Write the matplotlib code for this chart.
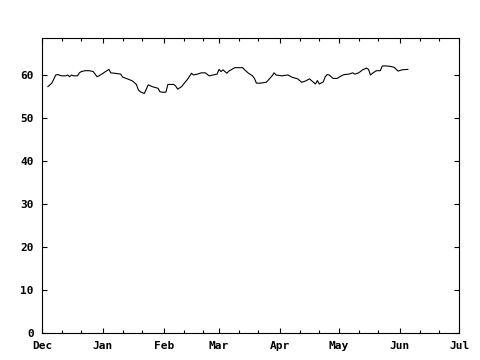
import pandas as pd
import matplotlib
matplotlib.use("Agg")
import matplotlib.pyplot as plt
import matplotlib.dates as mdates

# daily values
dates = ["2006-12-04", "2006-12-06", "2006-12-08", "2006-12-09", "2006-12-11",
         "2006-12-13", "2006-12-14", "2006-12-15", "2006-12-16", "2006-12-17",
         "2006-12-19", "2006-12-20", "2006-12-21", "2006-12-23", "2006-12-25",
         "2006-12-27", "2006-12-29", "2006-12-30", "2007-01-01", "2007-01-04",
         "2007-01-05", "2007-01-07", "2007-01-10", "2007-01-11", "2007-01-14",
         "2007-01-16", "2007-01-18", "2007-01-19", "2007-01-20", "2007-01-22",
         "2007-01-24", "2007-01-26", "2007-01-29", "2007-01-30", "2007-01-31",
         "2007-02-02", "2007-02-03", "2007-02-06", "2007-02-07", "2007-02-08",
         "2007-02-10", "2007-02-11", "2007-02-13", "2007-02-15", "2007-02-16",
         "2007-02-18", "2007-02-20", "2007-02-22", "2007-02-24", "2007-02-26",
         "2007-02-28", "2007-03-01", "2007-03-02", "2007-03-03", "2007-03-05",
         "2007-03-06", "2007-03-09", "2007-03-13", "2007-03-14", "2007-03-16",
         "2007-03-18", "2007-03-19", "2007-03-20", "2007-03-22", "2007-03-25",
         "2007-03-26", "2007-03-28", "2007-03-29", "2007-03-30", "2007-04-02",
         "2007-04-05", "2007-04-07", "2007-04-10", "2007-04-12", "2007-04-14",
         "2007-04-16", "2007-04-18", "2007-04-19", "2007-04-20", "2007-04-21",
         "2007-04-23", "2007-04-24", "2007-04-25", "2007-04-26", "2007-04-28",
         "2007-04-30", "2007-05-03", "2007-05-04", "2007-05-06", "2007-05-08",
         "2007-05-09", "2007-05-11", "2007-05-13", "2007-05-15", "2007-05-16",
         "2007-05-17", "2007-05-18", "2007-05-20", "2007-05-22", "2007-05-23",
         "2007-05-25", "2007-05-27", "2007-05-29", "2007-05-31", "2007-06-02",
         "2007-06-05"]
values = [57.3, 58.1, 60.0, 60.1, 59.8,
          59.8, 60.0, 59.6, 60.0, 59.8,
          59.8, 60.5, 60.8, 61.0, 61.0,
          60.8, 59.6, 59.8, 60.4, 61.3,
          60.5, 60.4, 60.2, 59.5, 59.0,
          58.6, 57.8, 56.5, 56.1, 55.7,
          57.7, 57.3, 56.9, 56.1, 56.0,
          56.0, 57.8, 57.8, 57.4, 56.7,
          57.3, 57.9, 59.0, 60.4, 60.0,
          60.2, 60.5, 60.5, 59.8, 60.0,
          60.2, 61.3, 60.8, 61.2, 60.4,
          60.9, 61.7, 61.7, 61.2, 60.4,
          59.8, 59.2, 58.1, 58.1, 58.3,
          58.8, 59.8, 60.5, 60.0, 59.8,
          60.0, 59.5, 59.1, 58.3, 58.6,
          59.1, 58.3, 57.9, 58.7, 57.9,
          58.4, 59.6, 60.1, 60.0, 59.2,
          59.2, 60.0, 60.1, 60.2, 60.5,
          60.2, 60.5, 61.2, 61.6, 61.3,
          60.0, 60.4, 61.0, 61.0, 62.1,
          62.1, 62.0, 61.8, 60.9, 61.2,
          61.3]

x = pd.to_datetime(dates)

plt.rcParams['font.family'] = ['DejaVu Sans Mono']
plt.rcParams['font.size'] = 8
plt.rcParams['font.weight'] = 'bold'

fig = plt.figure(figsize=(4.8, 3.6), dpi=100)
ax = fig.add_axes([42/480, 27/360, 417/480, 295/360])

ax.plot(x, values, color='black', linewidth=0.8)

ax.set_xlim(pd.Timestamp("2006-12-01"), pd.Timestamp("2007-07-01"))
ax.set_ylim(0, 68.6)
ax.set_yticks(range(0, 70, 10))

ax.xaxis.set_major_locator(mdates.MonthLocator())
ax.xaxis.set_major_formatter(mdates.DateFormatter('%b'))
ax.xaxis.set_minor_locator(mdates.DayLocator(bymonthday=[11, 21]))

ax.tick_params(which='both', direction='in', top=True, right=True, width=0.8)
ax.tick_params(which='major', length=3.5, pad=6)
ax.tick_params(which='minor', length=2)
for s in ax.spines.values():
    s.set_linewidth(0.8)

fig.savefig('out.png', dpi=100)
